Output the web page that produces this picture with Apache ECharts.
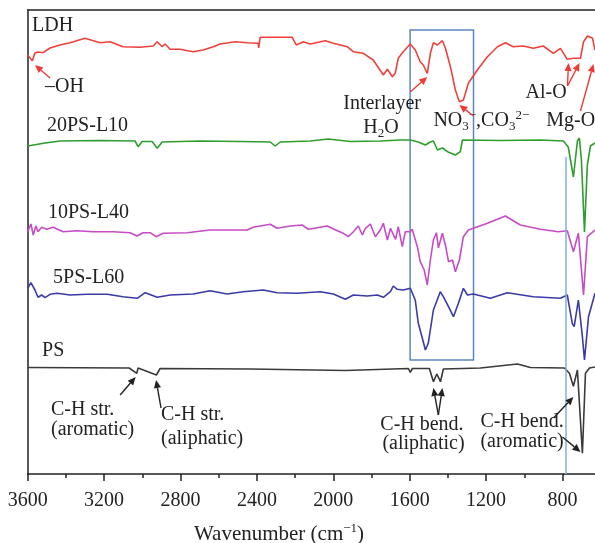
<!DOCTYPE html>
<html><head><meta charset="utf-8">
<script src="https://cdn.jsdelivr.net/npm/echarts@6/dist/echarts.min.js"></script>
<style>html,body{margin:0;padding:0;background:#fff}#c{width:595px;height:543px}</style>
</head><body><div id="c"></div>
<script>
// ---- Data: [wavenumber (cm-1), transmittance (arbitrary offset units)] ----
const ldh = [[3600,419],[3576,413.3],[3562,421],[3546,422],[3520,421.3],[3483,426],[3431,429],[3378,431.3],[3300,435.7],[3221,431.3],[3169,432.3],[3101,427.3],[3012,426.7],[2943,428],[2922,432.3],[2896,427.3],[2881,430],[2854,424.7],[2802,424.7],[2734,422.3],[2681,424],[2629,427.3],[2592,430],[2514,432.3],[2451,431.3],[2393,430.7],[2391,426],[2383,436.7],[2215,436.7],[2194,429],[2157,432.3],[2121,430],[2042,433.3],[2000,430.7],[1927,427.3],[1896,422.3],[1843,420.7],[1791,414],[1738,399],[1717,404.7],[1691,397.3],[1676,400.7],[1660,415.7],[1634,422.3],[1597,430],[1571,424],[1545,412.3],[1529,409],[1508,400.7],[1492,420.7],[1476,431.3],[1455,429],[1429,433.3],[1413,425.7],[1387,407.3],[1361,384],[1340,372.3],[1319,374],[1293,390.7],[1246,404],[1193,417.3],[1141,427.3],[1099,431.3],[1058,427.3],[1005,428],[953,425.7],[901,428],[848,420.7],[811,425.7],[775,414.7],[743,415.7],[706,415.7],[690,432.3],[669,438],[643,435.7],[630,424]];
const ps20l10 = [[3600,328],[3509,331],[3431,333],[3221,333.5],[3038,333],[3022,327.3],[3001,332.5],[2949,332.5],[2922,325.7],[2896,332],[2697,333],[2488,332.5],[2330,332],[2304,328],[2278,332],[2121,333],[2026,335],[1911,332.5],[1754,333],[1649,334],[1597,334],[1555,332],[1518,329],[1492,332],[1476,333],[1455,324],[1429,326],[1402,322.3],[1361,319],[1335,322.3],[1324,334],[1125,333.5],[916,334],[796,333],[770,327],[743,297],[722,333],[712,336],[701,314],[685,242],[670,309],[654,328],[630,331]];
const ps10l40 = [[3600,242.3],[3583,250],[3571,239],[3557,248],[3546,242.3],[3527,246.7],[3500,244.7],[3467,246.7],[3415,242.3],[3342,243.3],[3258,242.3],[3153,242.3],[3064,241.3],[3027,238],[2996,241.3],[2959,241.3],[2928,237.3],[2891,240.7],[2765,241.3],[2645,244],[2451,244],[2420,246.7],[2330,249.7],[2294,245.7],[2226,248],[2163,249],[2131,244.7],[2032,248],[1979,243.3],[1948,240.7],[1922,237.3],[1895,242.3],[1869,248],[1848,239],[1832,245.7],[1806,250],[1780,237.3],[1754,244],[1738,250.7],[1717,234],[1701,245.7],[1674,234.7],[1660,247.3],[1639,227.3],[1623,242.3],[1597,242.3],[1587,244.7],[1560,227.3],[1545,212.3],[1524,204],[1508,189],[1492,214],[1476,234],[1460,241.3],[1450,226],[1429,240.7],[1413,229],[1397,212.3],[1376,214],[1361,202.3],[1340,214],[1319,237.3],[1293,244],[1267,245.7],[1193,250.7],[1099,258],[1021,249],[916,244.7],[822,242.3],[775,243.3],[743,222.3],[717,240.7],[690,179],[670,237.3],[630,244]];
const ps5l60 = [[3600,185.7],[3583,191.3],[3562,184],[3546,176.7],[3527,179],[3509,176.3],[3483,179.7],[3446,180.7],[3378,179],[3289,179.7],[3184,179.7],[3101,177.3],[3027,175.7],[2985,181.3],[2922,176.7],[2854,179],[2734,180],[2645,183.3],[2556,180],[2472,182.3],[2367,184],[2294,181.3],[2189,180.7],[2068,182.3],[2000,180],[1937,174.7],[1895,179],[1822,178],[1770,179],[1738,176.7],[1701,182.3],[1686,188],[1665,184.7],[1634,184],[1597,185.7],[1571,174],[1555,150.7],[1529,132.3],[1518,124],[1503,130.7],[1476,164],[1440,182.3],[1424,177.3],[1397,167.3],[1371,157.3],[1345,170.7],[1319,185.7],[1298,179],[1267,180],[1178,175.7],[1089,181.3],[953,177.3],[811,175.7],[775,179],[749,150.7],[739,147.3],[717,174],[696,137.3],[685,114],[664,157.3],[630,180.7]];
const ps = [[3600,106.5],[3069,106],[3029,100.7],[3022,106],[2926,99],[2907,105.5],[2435,105],[1937,103.5],[1607,105.5],[1597,101.7],[1586,105.5],[1497,105.5],[1476,92.3],[1458,100],[1439,92.3],[1424,105],[1230,106],[1036,110],[968,106.5],[790,106],[764,100.7],[743,87.7],[722,104],[712,106],[696,20.7],[680,100.7],[659,106],[630,107]];

const seriesNames = ['LDH','20PS-L10','10PS-L40','5PS-L60','PS'];
const seriesData = [ldh, ps20l10, ps10l40, ps5l60, ps];
const xRange = [630, 3600];
const xMajorTicks = [3600, 3200, 2800, 2400, 2000, 1600, 1200, 800];
const xMinorTicks = [3400, 3000, 2600, 2200, 1800, 1400, 1000];

// ---- Annotations (data units: wavenumber, value at text baseline) ----
const labelTexts = [
  ['LDH',[3577,441]],['–OH',[3509,380]],['20PS-L10',[3499,341]],['10PS-L40',[3494,254]],
  ['5PS-L60',[3467,189]],['PS',[3525,116]],['Interlayer',[1948,363]],['Al-O',[994,374]],['Mg-O',[885,346]],
  ['C-H str.',[3478,57]],['(aromatic)',[3478,37]],['C-H str.',[2902,52]],['(aliphatic)',[2902,28]],
  ['C-H bend.',[1754,42]],['(aliphatic)',[1743,23]],['C-H bend.',[1230,45]],['(aromatic)',[1230,25]]
];
const richTexts = [
  ['{n|H}{s|2}{n|O}',[1843,339]],
  ['{n|NO}{s|3}{p|−}{n|,CO}{s|3}{p|2−}',[1476,346]]
];
const redArrows = [[[3483,396],[3562,409]],[[1597,382],[1508,397]],[[1266,358],[1340,369]],[[774,388],[769,411]],[[774,388],[711,411]],[[706,363],[638,410]]];
const blackArrows = [[[3116,79],[3035,97]],[[2902,66],[2928,94]],[[1450,59],[1476,86]],[[1450,59],[1429,86]],[[847,56],[743,77]],[[800,37],[706,22]]];
const boxArea = [[1598,444],[1266,114]];
const vLine = [[785,317],[785,0]];

const FONT = '"Liberation Serif", "Times New Roman", serif';
const colors = ['#f0403c','#2e9d2e','#c64cc6','#3a3aa8','#3a3a3a'];
const chart = echarts.init(document.getElementById('c'), null, {renderer:'canvas'});

const axisCommon = {type:'value', min:xRange[0], max:xRange[1], inverse:true, splitLine:{show:false}};
const series = seriesData.map((d,i)=>({
  name: seriesNames[i], type:'line', data:d, symbol:'none', showSymbol:false,
  lineStyle:{color:colors[i], width:1.6}, itemStyle:{color:colors[i]}, animation:false, z:2
}));
series[4].markArea = {silent:true, itemStyle:{color:'rgba(0,0,0,0)', borderColor:'#5a87c2', borderWidth:1.5},
  data:[[{coord:boxArea[0]},{coord:boxArea[1]}]]};
series[4].markLine = {silent:true, symbol:['none','none'], label:{show:false},
  lineStyle:{color:'#7eb0e2', width:1.5, type:'solid'},
  data:[[{coord:vLine[0]},{coord:vLine[1]}]]};

chart.setOption({
  animation:false,
  grid:{left:27.7, right:0, top:10, bottom:69},
  xAxis:[
    Object.assign({}, axisCommon, {position:'bottom',
      axisLine:{show:true, onZero:false, lineStyle:{color:'#222', width:1.5}},
      axisTick:{show:true, length:7, customValues:xMajorTicks, lineStyle:{color:'#222', width:1.5}},
      axisLabel:{fontFamily:FONT, fontSize:20, color:'#222', margin:17, customValues:xMajorTicks, formatter:v=>String(v)}}),
    Object.assign({}, axisCommon, {position:'top',
      axisLine:{show:true, onZero:false, lineStyle:{color:'#222', width:1.5}},
      axisTick:{show:false}, axisLabel:{show:false}}),
    Object.assign({}, axisCommon, {position:'bottom',
      axisLine:{show:false, onZero:false},
      axisTick:{show:true, length:4, customValues:xMinorTicks, lineStyle:{color:'#222', width:1.5}},
      axisLabel:{show:false}})
  ],
  yAxis:{type:'value', min:0, max:464, axisLine:{show:true, onZero:false, lineStyle:{color:'#222', width:1.5}},
    axisTick:{show:false}, axisLabel:{show:false}, splitLine:{show:false}},
  series
});

const toPx = p => chart.convertToPixel({seriesIndex:0}, p);
const graphics = [];
const textFont = '20px ' + FONT;
labelTexts.forEach(([t, at])=>{
  const p = toPx(at);
  graphics.push({type:'text', x:p[0], y:p[1]+5, silent:true, z:10,
    style:{text:t, font:textFont, fill:'#222', align:'left', verticalAlign:'bottom', lineHeight:24}});
});
const rich = {
  n:{fontSize:20, fontFamily:FONT, lineHeight:24},
  s:{fontSize:13, fontFamily:FONT, lineHeight:11, verticalAlign:'bottom'},
  p:{fontSize:13, fontFamily:FONT, lineHeight:13, verticalAlign:'top'}
};
richTexts.forEach(([t, at])=>{
  const p = toPx(at);
  graphics.push({type:'text', x:p[0], y:p[1]+5, silent:true, z:10,
    style:{text:t, rich, font:textFont, fill:'#222', align:'left', verticalAlign:'bottom'}});
});
function arrow(a, color){
  const p0 = toPx(a[0]), p1 = toPx(a[1]);
  const dx = p1[0]-p0[0], dy = p1[1]-p0[1], L = Math.hypot(dx,dy);
  const ux = dx/L, uy = dy/L, hl = 8, hw = 3.6;
  const bx = p1[0]-ux*hl, by = p1[1]-uy*hl;
  graphics.push({type:'line', silent:true, z:11, shape:{x1:p0[0], y1:p0[1], x2:bx, y2:by},
    style:{stroke:color, lineWidth:1.4}});
  graphics.push({type:'polygon', silent:true, z:11,
    shape:{points:[[p1[0],p1[1]],[bx-uy*hw, by+ux*hw],[bx+uy*hw, by-ux*hw]]}, style:{fill:color}});
}
redArrows.forEach(a=>arrow(a,'#ee3b36'));
blackArrows.forEach(a=>arrow(a,'#222'));
// axis title
graphics.push({type:'text', x:279, y:546.5, silent:true, z:10,
  style:{text:'{t|Wavenumber (cm}{u|−1}{t|)}', fill:'#222', align:'center', verticalAlign:'bottom',
    rich:{t:{fontSize:21, fontFamily:FONT, lineHeight:24}, u:{fontSize:13, fontFamily:FONT, lineHeight:13, verticalAlign:'top'}}}});
chart.setOption({graphic:{elements:graphics}});
</script></body></html>
